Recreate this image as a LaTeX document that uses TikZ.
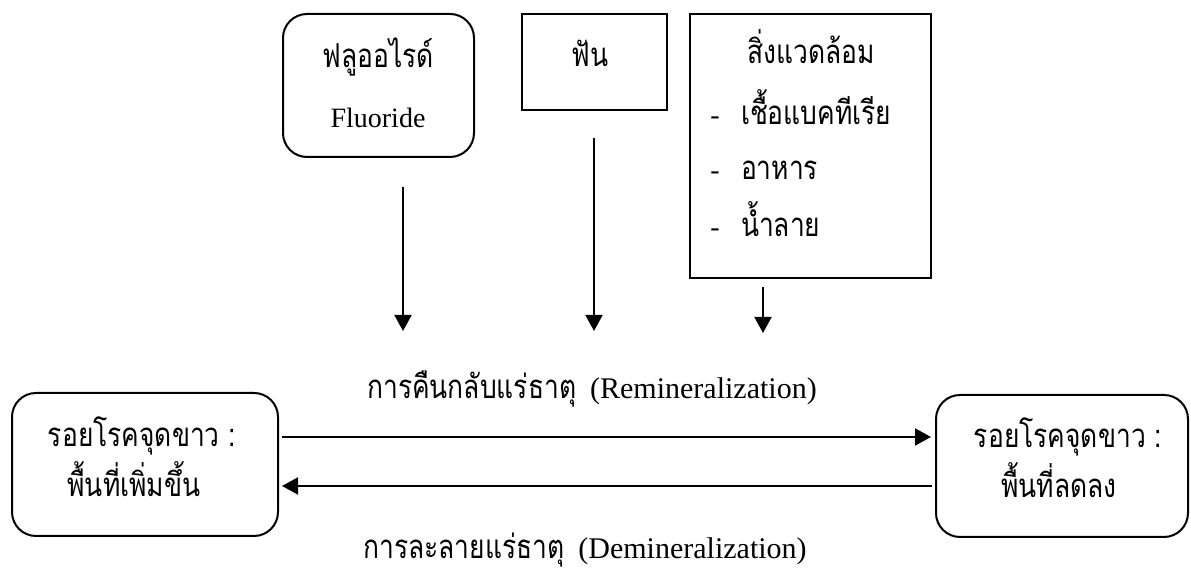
\documentclass[tikz,border=0pt]{standalone}
\usepackage{fontspec}
\setmainfont{Liberation Serif}
\newfontfamily\thai[Script=Thai,FakeStretch=0.8]{Loma}
\usetikzlibrary{arrows.meta}
\begin{document}
\begin{tikzpicture}[x=0.5pt,y=-0.5pt,
  line width=1pt,
  frame/.style={draw,line width=1pt,inner sep=0pt,outer sep=0pt},
  rbox/.style={frame,rounded corners=12pt},
  th/.style={anchor=base,inner sep=0pt,font=\thai\fontsize{16.5}{19}\selectfont},
  en/.style={anchor=base,inner sep=0pt,font=\fontsize{14}{17}\selectfont},
  lab/.style={anchor=base,inner sep=0pt},
  arr/.style={-{Triangle[length=8pt,width=8.5pt]},line width=1pt}]
\useasboundingbox (0,0) rectangle (1191,581);
% boxes
\node[rbox,minimum width=95.5pt,minimum height=71.5pt] (fl) at (378.5,85.5) {};
\node[frame,minimum width=72.5pt,minimum height=48pt] (fun) at (594.5,62) {};
\node[frame,minimum width=120.5pt,minimum height=132pt] (env) at (810.5,146) {};
\node[rbox,minimum width=133pt,minimum height=71.5pt] (lft) at (145,464.5) {};
\node[rbox,minimum width=126pt,minimum height=71pt] (rgt) at (1062,466) {};
% texts
\node[th] (flth) at (378,68) {ฟลูออไรด์};
\node[en] (flen) at (378,128) {Fluoride};
\node[th] (funt) at (590,67) {ฟัน};
\node[th] (envt) at (811,64) {สิ่งแวดล้อม};
\node[en] (d1) at (715,125) {-};
\node[th,anchor=base west] (e1) at (740,125) {เชื้อแบคทีเรีย};
\node[en] (d2) at (715,180) {-};
\node[th,anchor=base west] (e2) at (740,180) {อาหาร};
\node[en] (d3) at (715,237) {-};
\node[th,anchor=base west] (e3) at (740,237) {น้ำลาย};
\node[th] (l1) at (142,447) {รอยโรคจุดขาว :};
\node[th] (l2) at (134,497) {พื้นที่เพิ่มขึ้น};
\node[th] (r1) at (1068,448) {รอยโรคจุดขาว :};
\node[th] (r2) at (1059,498) {พื้นที่ลดลง};
\node[lab] (remi) at (592,399) {{\thai\fontsize{16.5}{19}\selectfont การคืนกลับแร่ธาตุ}\hspace{0.7em}{\fontsize{15}{18}\selectfont (Remineralization)}};
\node[lab] (demi) at (585,559) {{\thai\fontsize{16.5}{19}\selectfont การละลายแร่ธาตุ}\hspace{0.7em}{\fontsize{15}{18}\selectfont (Demineralization)}};
% arrow end points
\coordinate (a1s) at (403,187);
\coordinate (a1e) at (403,331);
\coordinate (a2s) at (594,138);
\coordinate (a2e) at (594,331);
\coordinate (a3s) at (763,287);
\coordinate (a3e) at (763,333);
\coordinate (h1s) at (282,437);
\coordinate (h1e) at (931,437);
\coordinate (h2s) at (932,486);
\coordinate (h2e) at (282,486);
\draw[arr] (a1s) -- (a1e);
\draw[arr] (a2s) -- (a2e);
\draw[arr] (a3s) -- (a3e);
\draw[arr] (h1s) -- (h1e);
\draw[arr] (h2s) -- (h2e);
\end{tikzpicture}
\end{document}
